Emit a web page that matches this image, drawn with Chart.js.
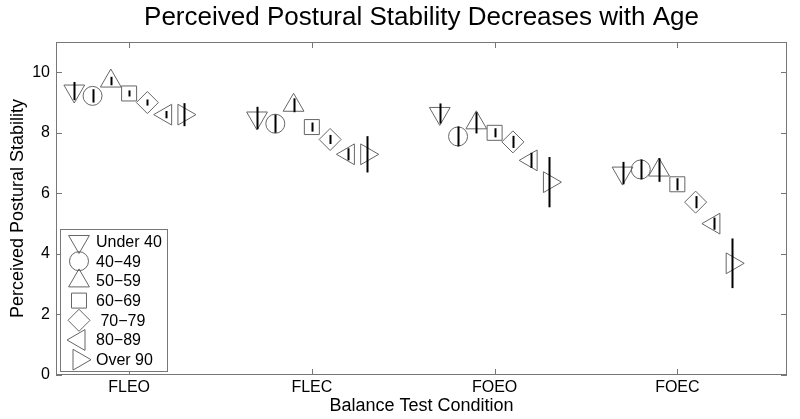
<!DOCTYPE html>
<html>
<head>
<meta charset="utf-8">
<script src="https://cdn.jsdelivr.net/npm/chart.js@4/dist/chart.umd.min.js"></script>
<style>
  html, body { margin: 0; padding: 0; background: #fff; }
  #wrap { width: 800px; height: 419px; }
</style>
</head>
<body>
<div id="wrap"><canvas id="chartCanvas" width="800" height="419"></canvas></div>
<script>
// test conditions on the x axis
const conditions = ['FLEO', 'FLEC', 'FOEO', 'FOEC'];
const ageGroups = ['Under 40', '40\u221249', '50\u221259', '60\u221269', ' 70\u221279', '80\u221289', 'Over 90'];

// mean perceived stability, one value per condition
const under40 = [9.38, 8.49, 8.64, 6.67];
const age40s = [9.22, 8.30, 7.88, 6.79];
const age50s = [9.71, 8.91, 8.33, 6.77];
const age60s = [9.30, 8.19, 8.00, 6.30];
const age70s = [9.00, 7.78, 7.70, 5.71];
const age80s = [8.60, 7.29, 7.09, 5.00];
const over90 = [8.60, 7.29, 6.37, 3.69];

// half length of the error bars
const errUnder40 = [0.30, 0.37, 0.33, 0.37];
const err40s = [0.22, 0.30, 0.33, 0.33];
const err50s = [0.14, 0.23, 0.35, 0.39];
const err60s = [0.10, 0.15, 0.15, 0.20];
const err70s = [0.10, 0.15, 0.20, 0.20];
const err80s = [0.12, 0.20, 0.25, 0.20];
const errOver90 = [0.38, 0.60, 0.83, 0.82];

const yTicks = [0, 2, 4, 6, 8, 10];

const means = [under40, age40s, age50s, age60s, age70s, age80s, over90];
const errors = [errUnder40, err40s, err50s, err60s, err70s, err80s, errOver90];

const markers = [
    { pointStyle: 'triangle', rotation: 180, radius: 12 },
    { pointStyle: 'circle', rotation: 0, radius: 9.5 },
    { pointStyle: 'triangle', rotation: 0, radius: 12 },
    { pointStyle: 'rect', rotation: 0, radius: 10.6 },
    { pointStyle: 'rectRot', rotation: 0, radius: 11 },
    { pointStyle: 'triangle', rotation: 270, radius: 12 },
    { pointStyle: 'triangle', rotation: 90, radius: 12 }
];

const markerColor = '#666';
const font = 'Liberation Sans, Arial, sans-serif';

const datasets = ageGroups.map((name, g) => ({
    label: name,
    data: means[g].map((v, c) => ({ x: c + 1 + (g - 3) * 0.1, y: v })),
    errors: errors[g],
    pointStyle: markers[g].pointStyle,
    rotation: markers[g].rotation,
    pointRadius: markers[g].radius,
    pointHoverRadius: markers[g].radius,
    pointBorderColor: markerColor,
    pointBackgroundColor: 'rgba(0,0,0,0)',
    pointBorderWidth: 1,
    showLine: false
}));

function drawMarker(ctx, m, x, y) {
    if (Chart.helpers && Chart.helpers.drawPoint) {
        Chart.helpers.drawPoint(ctx, { pointStyle: m.pointStyle, rotation: m.rotation, radius: m.radius, borderWidth: 1 }, x, y);
    }
}

const decorations = {
    id: 'decorations',
    afterDatasetsDraw(chart) {
        const { ctx, chartArea: a, scales } = chart;
        const xs = scales.x, ys = scales.y;
        ctx.save();

        // error bars
        ctx.strokeStyle = '#000';
        ctx.lineWidth = 2;
        chart.data.datasets.forEach(ds => {
            ds.data.forEach((p, i) => {
                const px = Math.round(xs.getPixelForValue(p.x)) + 0.5;
                ctx.beginPath();
                ctx.moveTo(px, ys.getPixelForValue(p.y - ds.errors[i]));
                ctx.lineTo(px, ys.getPixelForValue(p.y + ds.errors[i]));
                ctx.stroke();
            });
        });

        // box with inward ticks
        ctx.strokeStyle = '#777';
        ctx.lineWidth = 1;
        ctx.strokeRect(a.left + 0.5, a.top + 0.5, a.right - a.left - 1, a.bottom - a.top - 1);
        ctx.beginPath();
        xs.ticks.forEach(t => {
            const px = Math.round(xs.getPixelForValue(t.value)) + 0.5;
            ctx.moveTo(px, a.bottom); ctx.lineTo(px, a.bottom - 6);
            ctx.moveTo(px, a.top); ctx.lineTo(px, a.top + 6);
        });
        ys.ticks.forEach(t => {
            const py = Math.round(ys.getPixelForValue(t.value)) + 0.5;
            ctx.moveTo(a.left, py); ctx.lineTo(a.left + 6, py);
            ctx.moveTo(a.right, py); ctx.lineTo(a.right - 6, py);
        });
        ctx.stroke();

        // legend in the lower left corner
        const bx = a.left + 4, bw = 107, bh = 142;
        const by = a.bottom - 4 - bh;
        ctx.fillStyle = '#fff';
        ctx.fillRect(bx, by, bw, bh);
        ctx.strokeStyle = '#777';
        ctx.strokeRect(bx + 0.5, by + 0.5, bw, bh);
        ctx.font = '16px ' + font;
        ctx.textBaseline = 'middle';
        ctx.textAlign = 'left';
        chart.data.datasets.forEach((ds, g) => {
            const cy = by + 12.5 + g * 19.7;
            ctx.strokeStyle = markerColor;
            ctx.fillStyle = 'rgba(0,0,0,0)';
            ctx.lineWidth = 1;
            drawMarker(ctx, markers[g], bx + 19, cy);
            ctx.fillStyle = '#000';
            ctx.fillText(ds.label, bx + 36, cy + 1);
        });
        ctx.restore();
    }
};

const chart = new Chart(document.getElementById('chartCanvas').getContext('2d'), {
    type: 'scatter',
    data: { datasets: datasets },
    options: {
        responsive: false,
        animation: false,
        events: [],
        layout: { padding: { left: 0, right: 10, top: 0, bottom: 0 } },
        scales: {
            x: {
                type: 'linear',
                min: 0.6,
                max: 4.6,
                grid: { display: false, drawTicks: false },
                border: { display: false },
                afterBuildTicks: s => { s.ticks = conditions.map((c, i) => ({ value: i + 1 })); },
                afterFit: s => { s.height = 44; },
                ticks: {
                    color: '#000',
                    padding: 3,
                    font: { family: font, size: 16 },
                    callback: v => conditions[v - 1]
                },
                title: {
                    display: true,
                    text: 'Balance Test Condition',
                    color: '#000',
                    padding: { top: 0, bottom: 2 },
                    font: { family: font, size: 18 }
                }
            },
            y: {
                min: 0,
                max: 11,
                grid: { display: false, drawTicks: false },
                border: { display: false },
                afterBuildTicks: s => { s.ticks = yTicks.map(v => ({ value: v })); },
                afterFit: s => { s.width = 56; },
                ticks: {
                    color: '#000',
                    padding: 6,
                    font: { family: font, size: 16 }
                },
                title: {
                    display: true,
                    text: 'Perceived Postural Stability',
                    color: '#000',
                    padding: { top: 7, bottom: 0 },
                    font: { family: font, size: 18 }
                }
            }
        },
        plugins: {
            legend: { display: false },
            tooltip: { enabled: false },
            title: {
                display: true,
                fullSize: false,
                text: 'Perceived Postural Stability Decreases with Age',
                color: '#000',
                padding: { top: 2, bottom: 8.8 },
                font: { family: font, size: 26, weight: 'normal' }
            }
        }
    },
    plugins: [decorations]
});
</script>
</body>
</html>
